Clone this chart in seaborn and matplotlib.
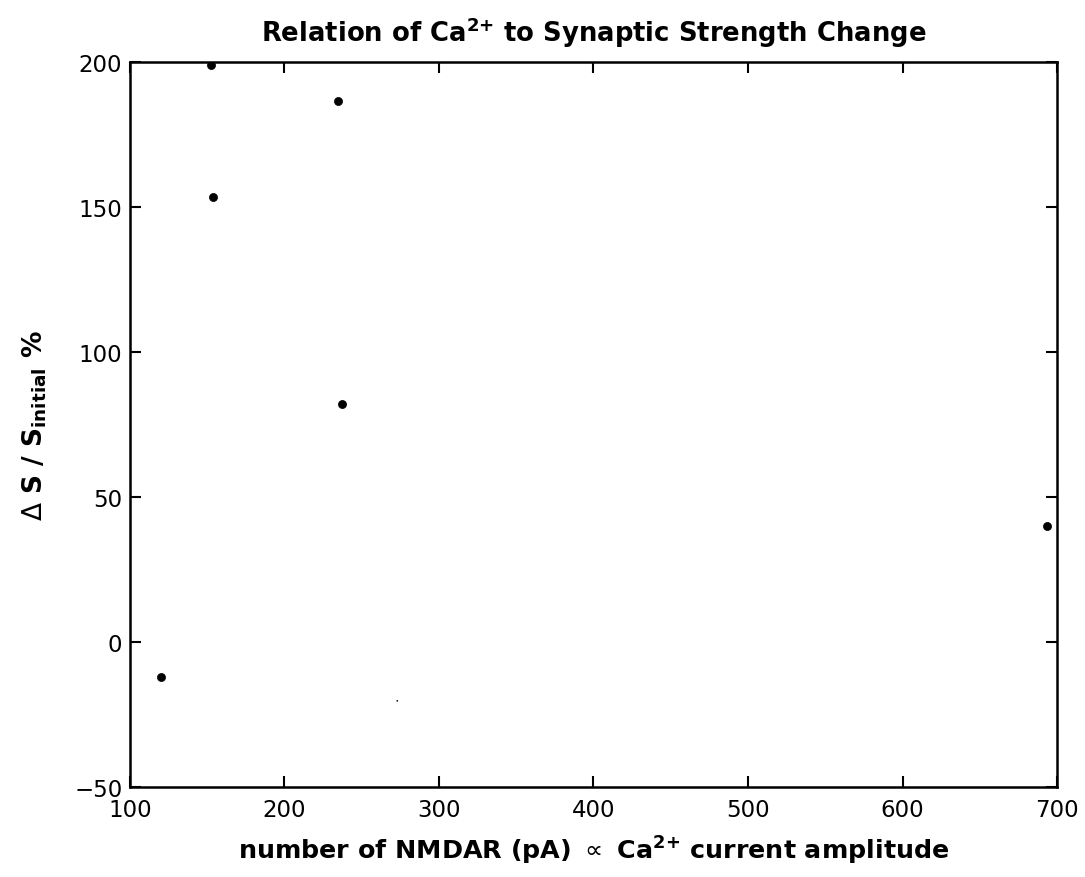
import matplotlib
matplotlib.use("Agg")
import matplotlib.pyplot as plt
import seaborn as sns
import pandas as pd

# NMDAR current amplitude (pA) vs. relative synaptic strength change (%)
nmdar_pa = [152.5, 153.5, 234.5, 237.0, 693.5, 120.0]
delta_s_pct = [199.0, 153.5, 186.5, 82.0, 40.0, -12.0]
# a lone stray sample near the bottom of the panel
stray_pa = [273.0]
stray_pct = [-20.3]

x_ticks = [100, 200, 300, 400, 500, 600, 700]
y_ticks = [-50, 0, 50, 100, 150, 200]
y_tick_labels = ["\u221250", "0", "50", "100", "150", "200"]

sns.set_style("white")
plt.rcParams["font.family"] = ["DejaVu Sans"]
plt.rcParams["mathtext.fontset"] = "dejavusans"
plt.rcParams["text.color"] = "black"
plt.rcParams["axes.labelcolor"] = "black"
plt.rcParams["xtick.color"] = "black"
plt.rcParams["ytick.color"] = "black"

df = pd.DataFrame({"x": nmdar_pa, "y": delta_s_pct})
df_stray = pd.DataFrame({"x": stray_pa, "y": stray_pct})

fig = plt.figure(figsize=(10.85, 8.78), dpi=100)
ax = fig.add_axes([0.1198, 0.1025, 0.8544, 0.8257])

sns.scatterplot(data=df, x="x", y="y", ax=ax, color="black", s=34,
                edgecolor="black", linewidth=0.5, legend=False)
sns.scatterplot(data=df_stray, x="x", y="y", ax=ax, color="black", s=1.5,
                edgecolor="none", legend=False)

ax.set_xlim(100, 700)
ax.set_ylim(-50, 200)
ax.set_xticks(x_ticks)
ax.set_xticklabels([str(t) for t in x_ticks])
ax.set_yticks(y_ticks)
ax.set_yticklabels(y_tick_labels)

for side in ["left", "right", "top", "bottom"]:
    ax.spines[side].set_visible(True)
    ax.spines[side].set_color("black")
    ax.spines[side].set_linewidth(1.8)

ax.tick_params(axis="both", which="major", direction="in", length=8,
               width=1.5, color="black", labelsize=16.5, labelcolor="black",
               top=True, right=True, bottom=True, left=True)
ax.tick_params(axis="x", pad=8)
ax.tick_params(axis="y", pad=5.5)

ax.set_title(r"Relation of Ca$^{\mathbf{2{+}}}$ to Synaptic Strength Change",
             fontsize=18.6, fontweight="bold", color="black", pad=15)
ax.set_xlabel(r"number of NMDAR (pA) $\propto$ Ca$^{\mathbf{2{+}}}$ current amplitude",
              fontsize=18.3, fontweight="bold", labelpad=9)
ax.set_ylabel(r"$\Delta$ S / S$_{\mathbf{initial}}$ %",
              fontsize=19, fontweight="bold", labelpad=18)

fig.savefig("out.png", dpi=100, facecolor="white")
